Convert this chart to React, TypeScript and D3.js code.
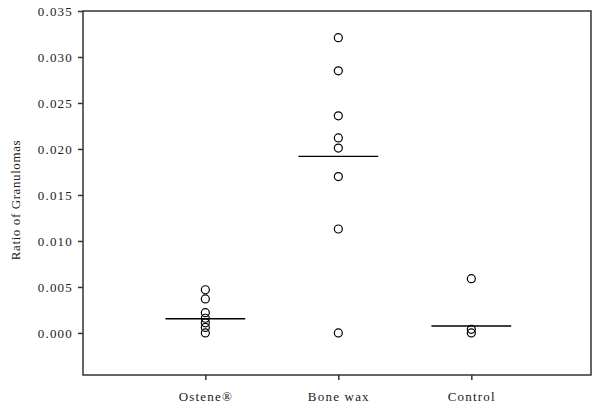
import React from 'react';
import * as d3 from 'd3';

const categories = ["Ostene\u00AE", "Bone wax", "Control"];
const osteneValues = [0.0047, 0.0037, 0.0022, 0.0016, 0.0011, 0.0006, 0.0];
const boneWaxValues = [0.0321, 0.0285, 0.0236, 0.0212, 0.0201, 0.017, 0.0113, 0.0];
const controlValues = [0.0059, 0.0004, 0.0];
const centerLines = [0.00155, 0.0192, 0.00076];
const yTicks = [0, 0.005, 0.01, 0.015, 0.02, 0.025, 0.03, 0.035];

const W = 600;
const H = 413;

const App = () => {
  const svgRef = React.useRef<SVGSVGElement>(null);

  React.useEffect(() => {
    const svg = d3.select(svgRef.current);
    svg.selectAll("*").remove();

    const left = 83, right = 591, top = 11, bottom = 375;

    const x = d3.scaleLinear().domain([0.08, 3.9]).range([left, right]);
    const y = d3.scaleLinear().domain([-0.00457, 0.035]).range([bottom, top]);

    const font = "Liberation Serif";
    const axisColor = "#333";

    // frame
    svg.append("rect")
      .attr("x", left).attr("y", top)
      .attr("width", right - left).attr("height", bottom - top)
      .attr("fill", "none").attr("stroke", axisColor).attr("stroke-width", 1.5);

    // Y axis
    const ya = svg.append("g")
      .attr("transform", `translate(${left},0)`)
      .call(d3.axisLeft(y).tickValues(yTicks).tickFormat(d3.format(".3f")).tickSize(5).tickPadding(5));
    ya.attr("font-family", font).attr("font-size", 13);
    ya.select(".domain").remove();
    ya.selectAll("line").attr("stroke", axisColor).attr("stroke-width", 1.5);
    ya.selectAll("text")
      .attr("fill", "#1a1a1a")
      .style("letter-spacing", "1.2px");

    // X axis
    const xa = svg.append("g")
      .attr("transform", `translate(0,${bottom})`)
      .call(d3.axisBottom(x).tickValues([1, 2, 3]).tickFormat((d) => categories[(d as number) - 1]).tickSize(5).tickPadding(12));
    xa.attr("font-family", font).attr("font-size", 13);
    xa.select(".domain").remove();
    xa.selectAll("line").attr("stroke", axisColor).attr("stroke-width", 1.5);
    xa.selectAll("text")
      .attr("fill", "#1a1a1a")
      .style("letter-spacing", "1.2px");

    // center lines
    svg.append("g")
      .selectAll("line")
      .data(centerLines)
      .enter()
        .append("line")
        .attr("x1", (d, i) => x(i + 1 - 0.3))
        .attr("x2", (d, i) => x(i + 1 + 0.3))
        .attr("y1", (d) => y(d))
        .attr("y2", (d) => y(d))
        .attr("stroke", "#000")
        .attr("stroke-width", 1.4);

    // points
    const groups = [osteneValues, boneWaxValues, controlValues];
    groups.forEach((vals, i) => {
      svg.append("g")
        .selectAll("circle")
        .data(vals)
        .enter()
          .append("circle")
          .attr("cx", x(i + 1))
          .attr("cy", (d) => y(d))
          .attr("r", 4)
          .attr("fill", "none")
          .attr("stroke", "#000")
          .attr("stroke-width", 1.2);
    });

    // Y title
    svg.append("text")
      .attr("transform", "translate(20,200) rotate(-90)")
      .attr("text-anchor", "middle")
      .attr("font-family", font).attr("font-size", 13)
      .style("letter-spacing", "0.6px")
      .attr("fill", "#1a1a1a")
      .text("Ratio of Granulomas");
  }, []);

  return (
    <svg ref={svgRef} width={W} height={H}
      style={{ position: "absolute", left: 0, top: 0, background: "#fff", display: "block" }} />
  );
};

export default App;
